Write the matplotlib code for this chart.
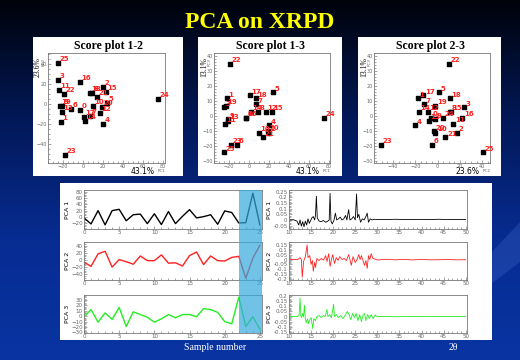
import numpy as np
import matplotlib.pyplot as plt
import matplotlib.transforms as mtransforms
from matplotlib.patches import Rectangle, Polygon
from matplotlib.ticker import MultipleLocator
from matplotlib.colors import LinearSegmentedColormap

# PCA scores for samples 0..25
samples = np.arange(26)
pc1 = [-3, -22, 20, -25, 20, 24, -12, 7, 9, -21, 10, -24, 17, -21, 2, 23,
       -3, 1, 7, -23, 19, 14, -19, -18, 75, -25]
pc2 = [-6, -18, 17, 24, -20, 1, -5, -12, 11, -2, -2, 14, -9, -8, -17, 12,
       22, -13, 11, -2, -3, 7, 10, -51, 5, 41]
pc3 = [-1, 12, -11, 6, -6, 16, -19, 8, 3, -2, -11, -5, 3, -3, 3, 3,
       -1, 14, 12, 7, -10, -14, 35, -19, -1, -24]
var_pct = ['43.1%', '23.6%', '13.1%']

# loadings: (2theta, loading)
load1 = [(10.0, 0.0), (11.0, 0.002), (11.8, -0.01), (12.2, -0.045), (12.5, 0.0),
         (12.8, -0.055), (13.1, -0.015), (13.4, -0.06), (13.7, -0.01), (14.0, -0.045),
         (14.3, 0.01), (14.6, -0.03), (14.9, -0.005), (15.2, 0.02), (15.5, 0.03),
         (15.8, 0.0), (16.0, 0.04), (16.2, 0.21), (16.4, 0.02), (16.8, -0.01),
         (17.3, -0.015), (17.8, -0.005), (18.3, -0.02), (18.8, -0.01), (19.1, 0.0),
         (19.3, 0.235), (19.5, -0.01), (19.8, -0.035), (20.2, 0.0), (20.5, 0.06),
         (20.8, 0.0), (21.2, 0.01), (21.6, 0.025), (22.0, 0.0), (22.4, 0.01),
         (22.8, 0.04), (23.1, 0.0), (23.5, 0.09), (23.8, 0.0), (24.2, 0.01),
         (24.6, 0.03), (25.0, 0.0), (25.3, 0.23), (25.5, 0.02), (25.8, 0.05),
         (26.2, -0.02), (26.6, 0.01), (27.0, 0.0), (27.4, 0.03), (27.7, 0.06),
         (28.0, -0.02), (28.4, 0.01), (28.8, 0.0), (29.3, 0.006), (30.0, 0.004),
         (32.0, 0.003), (34.0, 0.006), (36.0, 0.004), (38.0, 0.003), (40.0, 0.005),
         (42.0, 0.004), (44.0, 0.006), (46.0, 0.003), (48.0, 0.004), (50.0, 0.004)]
load2 = [(10.0, 0.0), (11.0, 0.002), (12.0, 0.0), (12.5, 0.02), (12.8, 0.0),
         (13.0, -0.18), (13.3, -0.02), (13.7, 0.03), (14.1, 0.15), (14.3, 0.02),
         (14.7, 0.04), (15.0, -0.05), (15.3, -0.01), (15.5, -0.12), (15.8, -0.03),
         (16.0, -0.08), (16.3, 0.01), (16.8, -0.01), (17.3, 0.01), (17.8, -0.005),
         (18.3, 0.04), (18.6, -0.02), (19.0, 0.06), (19.3, -0.07), (19.6, 0.0),
         (19.9, 0.05), (20.3, -0.04), (20.7, 0.02), (21.1, -0.01), (21.5, 0.03),
         (22.0, 0.0), (22.5, 0.01), (23.0, -0.01), (23.5, 0.05), (23.8, 0.0),
         (24.1, -0.06), (24.5, 0.03), (25.0, -0.03), (25.4, 0.0), (25.8, 0.05),
         (26.1, 0.0), (26.4, 0.04), (26.8, -0.02), (27.1, -0.06), (27.4, -0.01),
         (27.7, -0.09), (28.0, 0.04), (28.3, 0.0), (28.6, 0.06), (29.0, 0.01),
         (29.5, 0.005), (30.0, -0.005), (32.0, 0.003), (34.0, -0.003), (36.0, 0.002),
         (38.0, -0.004), (40.0, 0.002), (42.0, -0.003), (44.0, -0.002), (46.0, 0.0),
         (48.0, -0.003), (50.0, -0.002)]
load3 = [(10.0, 0.0), (11.0, 0.0), (12.0, 0.0), (12.3, 0.02), (12.5, 0.18),
         (12.7, 0.0), (12.9, -0.01), (13.1, 0.03), (13.3, 0.0), (13.5, 0.11),
         (13.7, -0.02), (13.9, -0.06), (14.2, -0.02), (14.4, -0.07), (14.7, -0.03),
         (15.0, -0.01), (15.4, -0.12), (15.6, -0.02), (16.0, -0.04), (16.3, 0.0),
         (16.8, 0.01), (17.3, -0.01), (17.8, 0.01), (18.2, 0.0), (18.6, 0.07),
         (18.8, 0.0), (19.2, 0.02), (19.6, -0.01), (20.1, 0.12), (20.3, 0.0),
         (20.7, 0.02), (21.2, -0.01), (21.7, 0.01), (22.2, -0.02), (22.7, 0.01),
         (23.2, 0.05), (23.6, 0.02), (24.0, -0.03), (24.4, 0.03), (24.8, -0.01),
         (25.2, 0.03), (25.6, -0.04), (26.0, 0.02), (26.4, -0.05), (26.8, 0.02),
         (27.1, 0.03), (27.4, -0.04), (27.8, 0.02), (28.2, -0.02), (28.6, 0.02),
         (29.0, -0.02), (29.5, 0.015), (30.0, 0.0), (32.0, 0.002), (34.0, -0.002),
         (36.0, 0.0), (38.0, 0.002), (40.0, -0.001), (42.0, 0.0), (44.0, 0.001),
         (46.0, 0.0), (48.0, 0.001), (50.0, 0.0)]

W, H = 520, 360


def box(l, t, r, b):
    return [l / W, 1 - b / H, (r - l) / W, (b - t) / H]


def style(ax, size=3.5):
    for s in ax.spines.values():
        s.set_color('#777777')
        s.set_linewidth(0.6)
    ax.tick_params(which='both', direction='in', colors='#666666', labelsize=size,
                   pad=1, width=0.4, top=False, right=False)
    ax.tick_params(which='major', length=2.5)
    ax.tick_params(which='minor', length=1.3)


fig = plt.figure(figsize=(5.2, 3.6), dpi=100)

# slide background
bg = fig.add_axes([0, 0, 1, 1])
cmap = LinearSegmentedColormap.from_list('slide', ['#00030a', '#021858', '#072c92', '#0934a2'])
bg.imshow(np.linspace(0, 1, 256)[:, None], aspect='auto', cmap=cmap, extent=[0, W, H, 0])
bg.add_patch(Polygon([(520, 222), (520, 262), (470, 300), (430, 318)], fc='#3a62c4',
                     ec='none', alpha=0.35))
bg.set_xlim(0, W)
bg.set_ylim(H, 0)
bg.axis('off')

for l, t, r, b in [(33, 37, 183, 176), (198, 37, 342, 176), (358, 37, 501, 176),
                   (60, 183, 492, 340)]:
    bg.add_patch(Rectangle((l, t), r - l, b - t, fc='white', ec='none'))

serif = 'Liberation Serif'
bg.text(260, 23, 'PCA on XRPD', color='#ffff00', fontsize=17, fontweight='bold',
        family=serif, ha='center', va='center')

# score scatter plots
pcs = [pc1, pc2, pc3]
panels = [
    (0, 1, (48, 53, 165, 163), (-35, 82), (-59, 51), 'Score plot 1-2', 108),
    (0, 2, (214, 53, 330, 163), (-35, 81), (-31, 42), 'Score plot 1-3', 270),
    (1, 2, (374, 53, 490, 163), (-57, 47), (-31, 42), 'Score plot 2-3', 430),
]
for i, j, pos, xl, yl, title, cx in panels:
    ax = fig.add_axes(box(*pos))
    ax.scatter(pcs[i], pcs[j], marker='s', s=5, color='black', zorder=3)
    for k in samples:
        ax.annotate(str(k), (pcs[i][k], pcs[j][k]), xytext=(1.2, 1.2),
                    textcoords='offset points', color='#ff2020', fontsize=5,
                    fontweight='bold', zorder=4)
    ax.set_xlim(*xl)
    ax.set_ylim(*yl)
    ax.xaxis.set_major_locator(MultipleLocator(20))
    ax.yaxis.set_major_locator(MultipleLocator(20 if j == 1 else 10))
    ax.xaxis.set_minor_locator(MultipleLocator(5))
    ax.yaxis.set_minor_locator(MultipleLocator(5 if j == 1 else 2))
    style(ax)
    bg.text(cx, 46, title, fontsize=8.5, fontweight='bold', family=serif,
            ha='center', va='center')
    bg.text(pos[0] - 10, 67, var_pct[j], rotation=90, fontsize=5.5, family=serif,
            ha='center', va='center')
    bg.text(pos[0] - 4, 62, 'PC%d' % (j + 1), rotation=90, fontsize=3, color='#666666',
            ha='center', va='center')
    bg.text(pos[2] - 22, 172, var_pct[i], fontsize=5.5, ha='center', va='center')
    bg.text(pos[2] - 3, 171, 'PC%d' % (i + 1), fontsize=3, color='#666666',
            ha='center', va='center')

# scores vs sample number and loadings
score_cols = ['black', '#ff2020', '#22ee22']
rows = [(190, 229), (242, 280), (295, 333)]
score_lims = [(-38, 85), (-56, 50), (-31, 39)]
score_steps = [20, 20, 10]
load_lims = [(-0.08, 0.265), (-0.21, 0.18), (-0.16, 0.21)]
loads = [load1, load2, load3]

score_axes = []
for r, (t, b) in enumerate(rows):
    ax = fig.add_axes(box(84, t, 262, b))
    ax.plot(samples, pcs[r], color=score_cols[r], lw=1.0)
    ax.set_xlim(0, 25.3)
    ax.set_ylim(*score_lims[r])
    ax.xaxis.set_major_locator(MultipleLocator(5))
    ax.xaxis.set_minor_locator(MultipleLocator(1))
    ax.yaxis.set_major_locator(MultipleLocator(score_steps[r]))
    ax.yaxis.set_minor_locator(MultipleLocator(score_steps[r] / 4))
    style(ax, 4)
    ax.set_ylabel('PCA %d' % (r + 1), fontsize=4.5, labelpad=1)
    score_axes.append(ax)

    lx = fig.add_axes(box(289, t, 467, b))
    tt, vv = zip(*loads[r])
    lx.plot(tt, vv, color=score_cols[r], lw=0.6)
    lx.set_xlim(10, 50.3)
    lx.set_ylim(*load_lims[r])
    lx.xaxis.set_major_locator(MultipleLocator(5))
    lx.xaxis.set_minor_locator(MultipleLocator(1))
    lx.yaxis.set_major_locator(MultipleLocator(0.05))
    lx.yaxis.set_minor_locator(MultipleLocator(0.0125))
    lx.yaxis.set_major_formatter(lambda v, p: '0' if abs(v) < 1e-9 else ('%.2f' % v).rstrip('0'))
    style(lx, 4)
    lx.set_ylabel('PCA %d' % (r + 1), fontsize=4.5, labelpad=1)

# highlighted samples 22..25
top = score_axes[0].get_position().y1
bot = score_axes[2].get_position().y0
trans = mtransforms.blended_transform_factory(score_axes[2].transData, fig.transFigure)
fig.add_artist(Rectangle((22, bot), 3.3, top - bot, transform=trans,
                         fc='#33aadd', ec='none', alpha=0.7))

bg.text(165, 195, 'Scores', fontsize=8.5, fontweight='bold', family=serif,
        ha='center', va='center')
bg.text(428, 196, 'Loadings', fontsize=8.5, fontweight='bold', family=serif,
        ha='center', va='center')
bg.text(215, 348, 'Sample number', fontsize=7, color='white', family=serif,
        ha='center', va='center')
bg.text(453, 348, '2θ', fontsize=7, color='white', family=serif,
        ha='center', va='center')

fig.savefig('out.png', dpi=100)
